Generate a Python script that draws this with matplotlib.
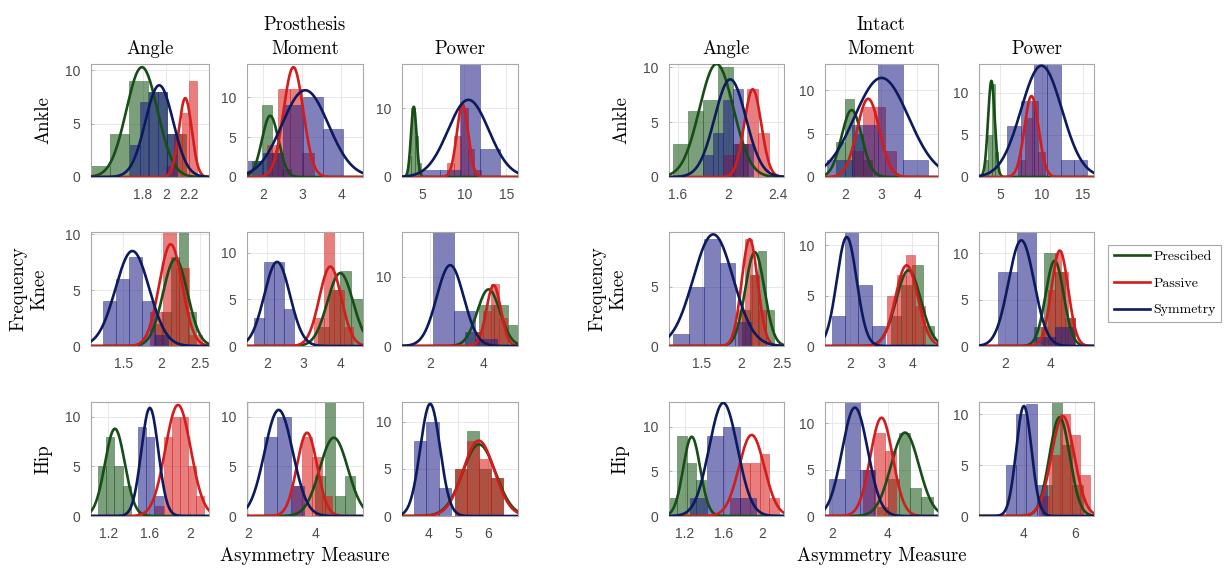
import numpy as np
import matplotlib
matplotlib.use("Agg")
import matplotlib.pyplot as plt
from matplotlib.lines import Line2D

# ---------------------------------------------------------------------------
# Labels
# ---------------------------------------------------------------------------
series_names = ["Prescibed", "Passive", "Symmetry"]
side_names = ["Prosthesis", "Intact"]
joint_names = ["Ankle", "Knee", "Hip"]
measure_names = ["Angle", "Moment", "Power"]

# Panel order: side -> joint -> measure (18 panels)
x_limits = [
    (1.35, 2.37), (1.60, 4.55), (2.6, 16.4),
    (1.08, 2.62), (1.46, 4.62), (0.94, 5.32),
    (1.03, 2.185), (1.97, 5.43), (3.13, 7.0),
    (1.53, 2.45), (1.44, 4.58), (2.5, 16.3),
    (1.09, 2.53), (1.19, 4.83), (0.84, 5.95),
    (1.04, 2.22), (1.75, 5.79), (2.24, 6.75),
]
x_ticks = [
    [1.8, 2, 2.2], [2, 3, 4], [5, 10, 15],
    [1.5, 2, 2.5], [2, 3, 4], [2, 4],
    [1.2, 1.6, 2], [2, 4], [4, 5, 6],
    [1.6, 2, 2.4], [2, 3, 4], [5, 10, 15],
    [1.5, 2, 2.5], [2, 3, 4], [2, 4],
    [1.2, 1.6, 2], [2, 4], [4, 6],
]
y_tops = [10.6, 14.2, 16.4, 10.2, 12.2, 16.5, 11.5, 11.5, 12.1,
          10.3, 13.0, 13.4, 9.6, 11.3, 12.3, 12.8, 12.3, 11.2]
y_ticks = [
    [0, 5, 10], [0, 5, 10], [0, 10],
    [0, 5, 10], [0, 5, 10], [0, 10],
    [0, 5, 10], [0, 5, 10], [0, 5, 10],
    [0, 5, 10], [0, 5, 10], [0, 5, 10],
    [0, 5], [0, 5, 10], [0, 5, 10],
    [0, 5, 10], [0, 5, 10], [0, 5, 10],
]

# ---------------------------------------------------------------------------
# Histograms: first bin edge, bin width, counts; normal fits: (mean, sd, peak)
# ---------------------------------------------------------------------------
prescribed_start = [1.35, 1.73, 3.3, 1.90, 3.4, 3.3, 1.10, 4.0, 4.9,
                    1.565, 1.75, 3.2, 2.0, 3.3, 3.3, 1.02, 3.6, 4.7]
prescribed_width = [0.165, 0.25, 0.4, 0.11, 0.3, 0.55, 0.08, 0.3, 0.4,
                    0.12, 0.25, 0.4, 0.1, 0.35, 0.45, 0.1, 0.4, 0.4]
prescribed_counts = [
    [1, 4, 9, 8, 4], [2, 9, 3, 1], [3, 10, 6, 2],
    [2, 3, 8, 11, 3], [2, 6, 8, 5], [2, 6, 6, 3],
    [5, 8, 5, 3], [4, 12, 2, 4], [5, 9, 5, 4],
    [3, 6, 7, 10, 3], [4, 9, 5, 2], [2, 5, 11, 3],
    [3, 6, 8, 3], [3, 6, 8, 2], [2, 10, 8, 3],
    [2, 9, 6, 4], [1, 4, 9, 3, 2], [3, 12, 7, 3],
]
prescribed_fit = [
    (1.79, 0.135, 10.3), (2.19, 0.21, 7.7), (4.0, 0.33, 10.2),
    (2.18, 0.16, 7.8), (4.0, 0.35, 7.8), (4.21, 0.43, 8.2),
    (1.264, 0.097, 8.8), (4.56, 0.42, 7.9), (5.7, 0.55, 7.6),
    (1.91, 0.136, 10.3), (2.18, 0.28, 7.7), (3.99, 0.4, 11.4),
    (2.165, 0.12, 7.9), (3.88, 0.4, 7.5), (4.2, 0.4, 9.2),
    (1.273, 0.087, 8.9), (4.61, 0.5, 9.0), (5.4, 0.4, 9.7),
]

passive_start = [2.0, 2.1, 8.0, 1.85, 3.28, 3.7, 1.66, 3.3, 4.9,
                 1.97, 2.2, 7.2, 1.95, 3.2, 3.6, 1.67, 3.1, 4.6]
passive_width = [0.067, 0.3, 0.8, 0.17, 0.27, 0.3, 0.08, 0.3, 0.4,
                 0.09, 0.3, 0.8, 0.09, 0.3, 0.3, 0.1, 0.4, 0.4]
passive_counts = [
    [1, 4, 6, 9], [4, 11, 11, 3], [2, 6, 10, 4, 1],
    [3, 11, 7, 1], [3, 13, 6, 2], [2, 5, 9, 4],
    [1, 8, 10, 10, 5, 2], [3, 8, 6, 2], [5, 8, 6, 4],
    [2, 3, 8, 4], [3, 8, 8, 3], [2, 7, 9, 3],
    [3, 9, 6, 3], [5, 7, 9, 4], [2, 6, 10, 8, 3],
    [2, 6, 6, 7, 2], [5, 9, 7], [2, 6, 10, 8, 4],
]
passive_fit = [
    (2.165, 0.055, 7.4), (2.78, 0.25, 13.8), (9.8, 0.68, 10.5),
    (2.12, 0.15, 9.1), (3.73, 0.3, 8.5), (4.4, 0.27, 8.8),
    (1.882, 0.124, 11.2), (3.76, 0.3, 8.4), (5.69, 0.52, 8.0),
    (2.2, 0.068, 8.0), (2.64, 0.31, 9.0), (8.8, 0.85, 9.6),
    (2.10, 0.1, 9.0), (3.82, 0.36, 8.0), (4.43, 0.37, 10.3),
    (1.888, 0.13, 9.1), (3.77, 0.4, 10.6), (5.53, 0.45, 9.8),
]

symmetry_start = [1.69, 1.5, 4.7, 1.24, 1.65, 1.31, 1.49, 2.47, 3.52,
                  1.80, 1.5, 5.9, 1.14, 1.40, 1.68, 1.256, 1.9, 3.3]
symmetry_width = [0.08, 0.51, 2.4, 0.17, 0.27, 0.8, 0.08, 0.4, 0.42,
                  0.08, 0.7, 1.6, 0.195, 0.43, 0.85, 0.17, 0.55, 0.4]
symmetry_counts = [
    [3, 7, 8, 8, 4], [2, 3, 9, 10, 6], [1, 1, 20, 4],
    [4, 6, 8, 4, 1], [3, 9, 9, 4], [0, 17, 5, 1],
    [9, 8, 2], [8, 10, 3], [8, 10, 3],
    [2, 4, 7, 8, 3], [2, 6, 15, 2], [6, 9, 14, 14, 2, 2],
    [1, 5, 9, 7, 2], [3, 12, 6, 2], [8, 13, 1, 2],
    [2, 9, 10, 2], [4, 13, 5], [5, 10, 11, 3],
]
symmetry_fit = [
    (1.94, 0.12, 8.6), (3.08, 0.59, 10.9), (10.5, 2.43, 11.2),
    (1.62, 0.22, 8.5), (2.28, 0.35, 9.0), (2.76, 0.51, 11.7),
    (1.606, 0.083, 10.9), (2.915, 0.42, 10.7), (4.07, 0.33, 11.9),
    (2.02, 0.125, 8.9), (3.01, 0.75, 11.4), (10.0, 2.45, 13.2),
    (1.644, 0.25, 9.4), (1.89, 0.32, 10.8), (2.72, 0.57, 11.4),
    (1.597, 0.145, 12.7), (2.82, 0.46, 11.7), (4.0, 0.3, 10.8),
]

# ---------------------------------------------------------------------------
# Styling
# ---------------------------------------------------------------------------
SERIF = "cmr10"
SANS = "Liberation Sans"
bar_colors = ["#0f500f", "#d81414", "#181a84"]
line_colors = ["#174d17", "#d41c1c", "#0c1a5e"]
BAR_ALPHA = 0.55
FS = 13.5

W, H = 1231, 569
fig = plt.figure(figsize=(W / 100, H / 100), dpi=100)

# pixel extents of the subplot grid
col_px = [(91, 209), (247, 363), (402, 518), (669, 784), (825, 938), (979, 1094)]
row_px = [(64, 177), (232, 346), (402, 516)]

starts = [prescribed_start, passive_start, symmetry_start]
widths = [prescribed_width, passive_width, symmetry_width]
counts_all = [prescribed_counts, passive_counts, symmetry_counts]
fits = [prescribed_fit, passive_fit, symmetry_fit]

for side in range(2):
    for j in range(3):
        for m in range(3):
            p = side * 9 + j * 3 + m
            x0, x1 = col_px[side * 3 + m]
            y0, y1 = row_px[j]
            ax = fig.add_axes([x0 / W, 1 - y1 / H, (x1 - x0) / W, (y1 - y0) / H])
            xlo, xhi = x_limits[p]
            xs = np.linspace(xlo, xhi, 400)
            for s in range(3):
                c = np.asarray(counts_all[s][p], dtype=float)
                left = starts[s][p] + widths[s][p] * np.arange(len(c))
                ax.bar(left, c, width=widths[s][p], align="edge",
                       color=bar_colors[s], alpha=BAR_ALPHA,
                       edgecolor=bar_colors[s], linewidth=0.5, zorder=2)
                mu, sd, pk = fits[s][p]
                ax.plot(xs, pk * np.exp(-0.5 * ((xs - mu) / sd) ** 2),
                        color=line_colors[s], lw=1.9, zorder=3)
            ax.set_xlim(xlo, xhi)
            ax.set_ylim(0, y_tops[p])
            ax.set_xticks(x_ticks[p])
            ax.set_xticklabels([f"{t:g}" for t in x_ticks[p]])
            ax.set_yticks(y_ticks[p])
            ax.grid(True, color="#e4e4e4", lw=0.6, zorder=0)
            ax.set_axisbelow(True)
            for sp in ax.spines.values():
                sp.set_color("#a8a8a8")
                sp.set_linewidth(0.8)
            ax.tick_params(direction="in", length=2.5, width=0.6, color="#a8a8a8",
                           labelsize=10, labelcolor="#4a4a4a", pad=8)
            for lab in ax.get_xticklabels() + ax.get_yticklabels():
                lab.set_fontfamily(SANS)

            if j == 0:
                title = measure_names[m]
                if m == 1:
                    title = side_names[side] + "\n" + measure_names[m]
                ax.set_title(title, fontfamily=SERIF, fontsize=FS, pad=7,
                             linespacing=1.45)
            if m == 0:
                if j == 1:
                    ax.set_ylabel("Frequency\n" + joint_names[j], fontfamily=SERIF,
                                  fontsize=FS, linespacing=1.2)
                    ax.yaxis.set_label_coords(-0.36 if side == 0 else -0.36, 0.5)
                else:
                    ax.set_ylabel(joint_names[j], fontfamily=SERIF, fontsize=FS)
                    ax.yaxis.set_label_coords(-0.33 if side == 0 else -0.34, 0.5)
            if j == 2 and m == 1:
                ax.set_xlabel("Asymmetry Measure", fontfamily=SERIF, fontsize=FS,
                              labelpad=4)

handles = [Line2D([], [], color=line_colors[s], lw=1.9) for s in range(3)]
leg = fig.legend(handles, series_names, loc="upper left",
                 bbox_to_anchor=(1108 / W, 1 - 245 / H),
                 prop={"family": SERIF, "size": 10},
                 handlelength=2.6, handletextpad=0.25, labelspacing=1.0,
                 borderpad=0.4, borderaxespad=0.0, fancybox=False,
                 edgecolor="#a8a8a8", framealpha=1)
leg.get_frame().set_linewidth(0.8)

fig.savefig("out.png", dpi=100)
